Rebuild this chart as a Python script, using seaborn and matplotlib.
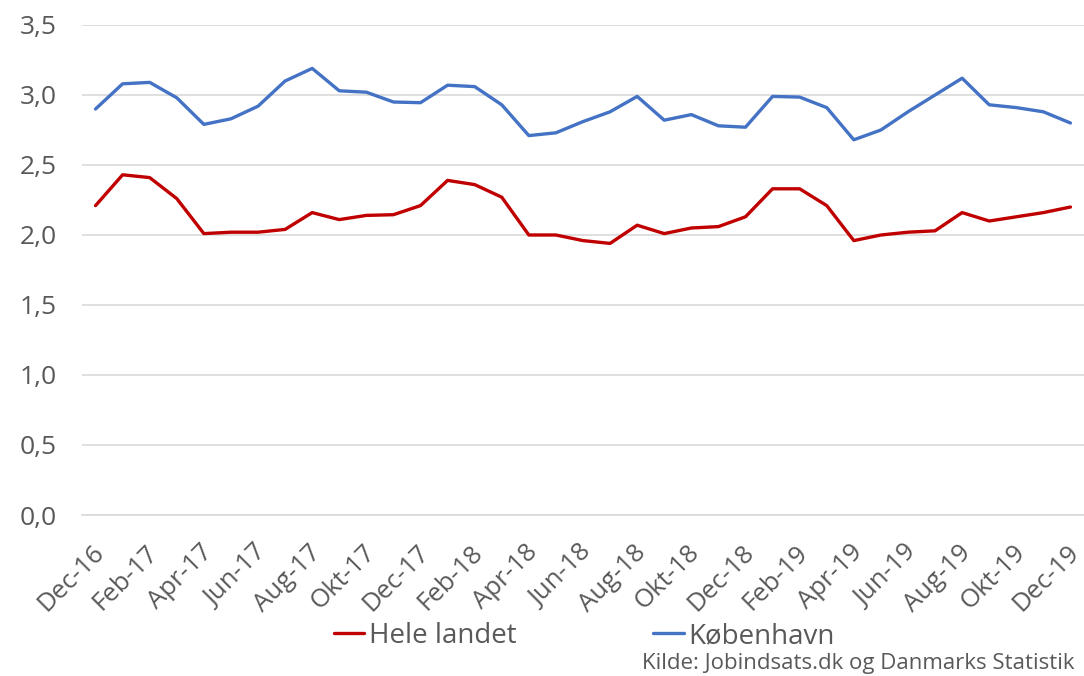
import pandas as pd
import numpy as np
import matplotlib.pyplot as plt
import seaborn as sns

#%% Data
months = ["Dec-16", "Jan-17", "Feb-17", "Mar-17", "Apr-17", "Maj-17", "Jun-17", "Jul-17",
          "Aug-17", "Sep-17", "Okt-17", "Nov-17", "Dec-17", "Jan-18", "Feb-18", "Mar-18",
          "Apr-18", "Maj-18", "Jun-18", "Jul-18", "Aug-18", "Sep-18", "Okt-18", "Nov-18",
          "Dec-18", "Jan-19", "Feb-19", "Mar-19", "Apr-19", "Maj-19", "Jun-19", "Jul-19",
          "Aug-19", "Sep-19", "Okt-19", "Nov-19", "Dec-19"]

hele_landet = [2.21, 2.43, 2.41, 2.26, 2.01, 2.02, 2.02, 2.04, 2.16, 2.11, 2.14, 2.145,
               2.21, 2.39, 2.36, 2.27, 2.00, 2.00, 1.96, 1.94, 2.07, 2.01, 2.05, 2.06,
               2.13, 2.33, 2.33, 2.21, 1.96, 2.00, 2.02, 2.03, 2.16, 2.10, 2.13, 2.16, 2.20]

koebenhavn = [2.90, 3.08, 3.09, 2.98, 2.79, 2.83, 2.92, 3.10, 3.19, 3.03, 3.02, 2.95,
              2.945, 3.07, 3.06, 2.93, 2.71, 2.73, 2.81, 2.88, 2.99, 2.82, 2.86, 2.78,
              2.77, 2.99, 2.985, 2.91, 2.68, 2.75, 2.88, 3.00, 3.12, 2.93, 2.91, 2.88, 2.80]

series_names = ["Hele landet", "København"]
palette = {"Hele landet": "#C00000", "København": "#4472C4"}

#%% Long format
df = pd.DataFrame({
    "idx": list(range(len(months))) * 2,
    "value": hele_landet + koebenhavn,
    "serie": [series_names[0]] * len(months) + [series_names[1]] * len(months),
})

#%% Plot
sns.set_style("white")
plt.rcParams["font.family"] = ["Open Sans", "DejaVu Sans"]
textcol = "#595959"

fig = plt.figure(figsize=(10.84, 6.76), dpi=100)
ax = fig.add_axes([82 / 1084, 1 - 515 / 676, (1084 - 82) / 1084, 490 / 676])

sns.lineplot(data=df, x="idx", y="value", hue="serie", palette=palette,
             linewidth=2.4, ax=ax, legend=False)

ax.set_xlim(-0.5, 36.33)
ax.set_ylim(0, 3.5)
yt = np.arange(0, 3.51, 0.5)
ax.set_yticks(yt)
ax.set_yticklabels([f"{v:.1f}".replace(".", ",") for v in yt], fontsize=19, color=textcol)
ax.yaxis.grid(True, color="#d9d9d9", linewidth=1.2)
ax.set_axisbelow(True)

# every second month labelled; nudge so the rotated text ends just right of the point
lab_idx = np.arange(0, len(months), 2)
ax.set_xticks(lab_idx - 0.15)
ax.set_xticklabels(months[::2], rotation=45, ha="right", rotation_mode="anchor",
                   fontsize=18.5, color=textcol)
ax.tick_params(axis="x", length=0, pad=18)
ax.tick_params(axis="y", length=0, pad=18)
ax.set_xticks(np.arange(-0.5, 36.6, 1), minor=True)
ax.tick_params(axis="x", which="minor", length=6, color="#d9d9d9", width=1.2)

for s in ["top", "right", "left"]:
    ax.spines[s].set_visible(False)
ax.spines["bottom"].set_color("#d9d9d9")
ax.spines["bottom"].set_linewidth(1.2)
ax.set_xlabel("")
ax.set_ylabel("")

handles = [plt.Line2D([], [], color=palette[n], linewidth=2.4) for n in series_names]
fig.legend(handles, series_names, loc="center", bbox_to_anchor=(0.539, 1 - 636 / 676),
           ncol=2, frameon=False, fontsize=20, labelcolor=textcol,
           handlelength=1.1, handletextpad=0.18, columnspacing=4.9)

fig.text(1075 / 1084, 1 - 664 / 676, "Kilde: Jobindsats.dk og Danmarks Statistik",
         ha="right", va="center", fontsize=16, color=textcol)

fig.savefig("out.png", dpi=100)
